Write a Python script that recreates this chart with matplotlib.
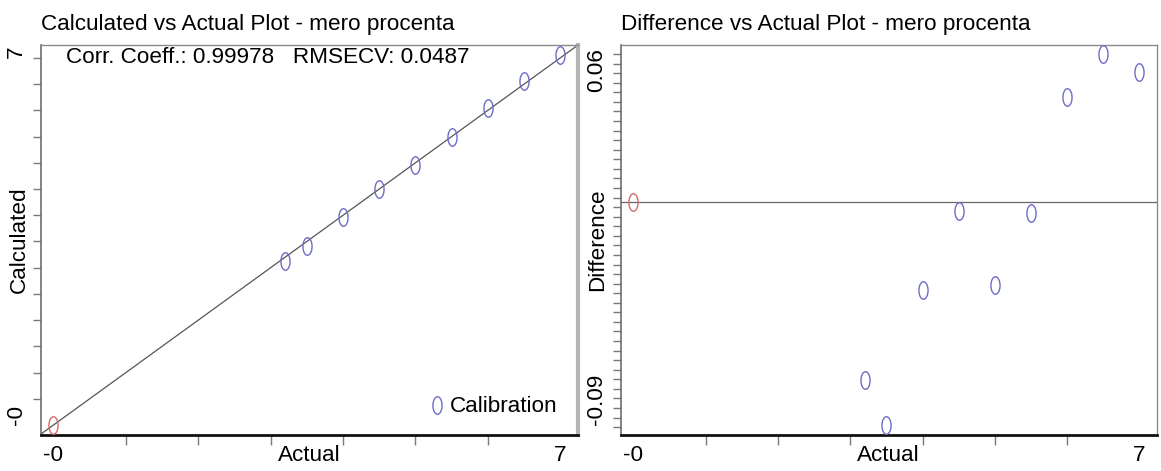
import numpy as np
import matplotlib
matplotlib.use("Agg")
import matplotlib.pyplot as plt
from matplotlib.path import Path

plt.rcParams['font.family'] = ['Liberation Sans', 'DejaVu Sans']

# --- data -------------------------------------------------------------
actual = [0.0, 3.2, 3.5, 4.0, 4.5, 5.0, 5.5, 6.0, 6.5, 7.0]
calculated = [0.0, 3.126, 3.407, 3.963, 4.497, 4.965, 5.495, 6.044, 6.562, 7.055]
difference = [0.0, -0.0743, -0.0933, -0.0367, -0.0035, -0.0346, -0.0046, 0.0441, 0.0620, 0.0546]
point_class = ['excluded'] + ['Calibration'] * 9

x_tick_labels = ['-0', '7']
calc_tick_labels = ['-0', '7']
diff_tick_labels = ['-0.09', '0.06']

corr_coeff = '0.99978'
rmsecv = '0.0487'
component = 'mero procenta'

# --- styling ----------------------------------------------------------
BLUE = '#6c6cc8'
RED = '#d66a6a'
FS = 16.2

theta = np.linspace(0, 2 * np.pi, 60)
ellipse = Path(np.column_stack([0.26 * np.cos(theta), 0.5 * np.sin(theta)]))

act = np.array(actual)
cal = np.array(calculated)
dif = np.array(difference)
is_cal = np.array([c == 'Calibration' for c in point_class])

fig = plt.figure(figsize=(11.61, 4.71), dpi=100)
W, H = 1161, 471
axL = fig.add_axes([40.7 / W, 1 - 435 / H, 537 / W, 390 / H])
axR = fig.add_axes([620.7 / W, 1 - 435 / H, 536 / W, 390 / H])


def style_frame(ax, right_color, right_width):
    ax.spines['top'].set_color('#8a8a8a')
    ax.spines['top'].set_linewidth(1.0)
    ax.spines['left'].set_color('#6e6e6e')
    ax.spines['left'].set_linewidth(1.2)
    ax.spines['bottom'].set_color('#111111')
    ax.spines['bottom'].set_linewidth(2.0)
    ax.spines['right'].set_color(right_color)
    ax.spines['right'].set_linewidth(right_width)


def x_axis(ax):
    ax.set_xlim(-0.176, 7.24)
    ax.set_xticks(np.arange(0, 8, 1), minor=True)
    ax.set_xticks([act.min(), act.max()], x_tick_labels, fontsize=FS)
    ax.tick_params(axis='x', which='minor', length=7, width=1.0, color='#7a7a7a', direction='out')
    ax.tick_params(axis='x', which='major', length=0, pad=7.5)
    ax.set_xlabel('Actual', fontsize=FS)
    ax.xaxis.set_label_coords(0.5, -0.026)
    ax.xaxis.label.set_va('top')


def y_labels(ax, vals, labels, ylab, label_x):
    ax.set_yticks(vals, labels, fontsize=FS)
    ax.tick_params(axis='y', which='major', length=0, pad=10)
    lo, hi = ax.get_yticklabels()
    for lab, ha in ((lo, 'left'), (hi, 'right')):
        lab.set_rotation(90)
        lab.set_rotation_mode('anchor')
        lab.set_ha(ha)
        lab.set_va('bottom')
    ax.set_ylabel(ylab, fontsize=FS)
    ax.yaxis.set_label_coords(label_x, 0.5)


# --- Calculated vs Actual --------------------------------------------
axL.set_ylim(-0.19, 7.245)
lims = np.array([-0.2, 7.3])
axL.plot(lims, lims, color='#555555', lw=0.9, zorder=1)
axL.plot(act[is_cal], cal[is_cal], ls='none', marker=ellipse, ms=12.6,
         mfc='none', mec=BLUE, mew=1.0, zorder=3, label='Calibration')
axL.plot(act[~is_cal], cal[~is_cal], ls='none', marker=ellipse, ms=12.6,
         mfc='none', mec=RED, mew=1.0, zorder=3)
style_frame(axL, '#b4b4b4', 3.0)
x_axis(axL)
axL.set_yticks(np.arange(0, 7.01, 0.5), minor=True)
axL.tick_params(axis='y', which='minor', length=6, width=1.0, color='#7a7a7a')
y_labels(axL, [cal.min(), axL.get_ylim()[1]], calc_tick_labels, 'Calculated', -0.021)
axL.set_title(f'Calculated vs Actual Plot - {component}', loc='left', fontsize=FS, pad=11)
axL.text(0.048, 0.969, f'Corr. Coeff.: {corr_coeff}   RMSECV: {rmsecv}',
         transform=axL.transAxes, fontsize=FS, va='center', ha='left')
axL.legend(loc='lower right', bbox_to_anchor=(0.962, 0.045), frameon=False,
           fontsize=FS, handlelength=0.6, handletextpad=0.25, borderpad=0,
           borderaxespad=0, markerscale=1.0)

# --- Difference vs Actual --------------------------------------------
axR.set_ylim(-0.0973, 0.0658)
axR.axhline(0, color='#666666', lw=0.9, zorder=1)
axR.plot(act[is_cal], dif[is_cal], ls='none', marker=ellipse, ms=12.6,
         mfc='none', mec=BLUE, mew=1.0, zorder=3)
axR.plot(act[~is_cal], dif[~is_cal], ls='none', marker=ellipse, ms=12.6,
         mfc='none', mec=RED, mew=1.0, zorder=3)
style_frame(axR, '#8a8a8a', 1.0)
x_axis(axR)
axR.set_yticks(np.arange(dif.max(), -0.0975, -0.004), minor=True)
axR.tick_params(axis='y', which='minor', length=6, width=1.0, color='#7a7a7a')
y_labels(axR, [dif.min(), axR.get_ylim()[1] - 0.0013], diff_tick_labels, 'Difference', -0.024)
axR.set_title(f'Difference vs Actual Plot - {component}', loc='left', fontsize=FS, pad=11)

fig.savefig('out.png', dpi=100, facecolor='white')
